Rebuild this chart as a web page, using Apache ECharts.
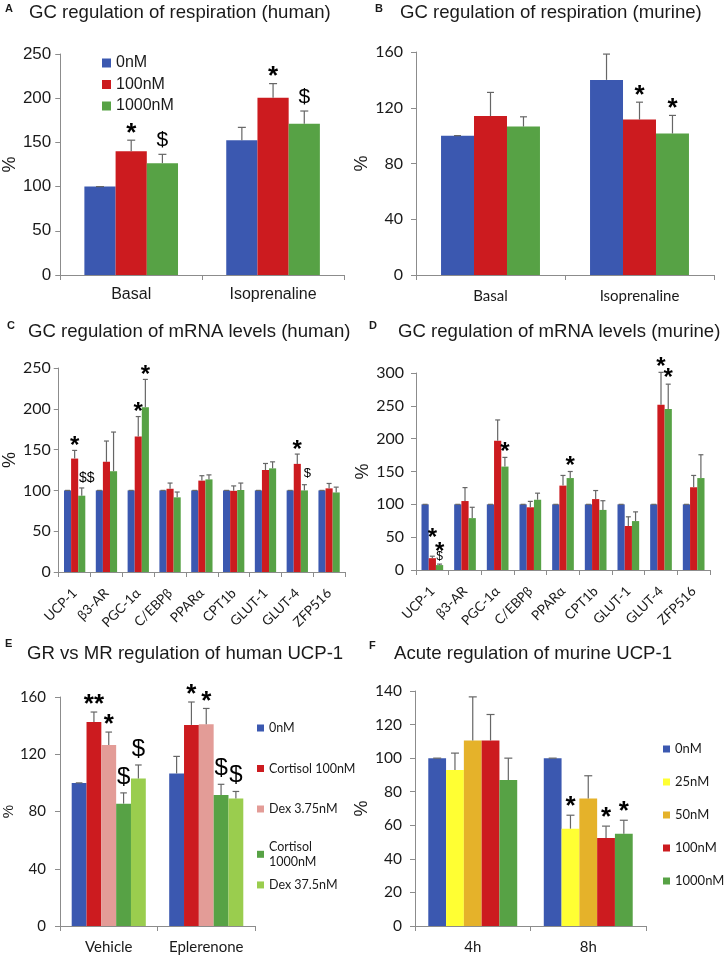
<!DOCTYPE html>
<html><head><meta charset="utf-8">
<script src="https://cdn.jsdelivr.net/npm/echarts@6/dist/echarts.min.js"></script>
<style>html,body{margin:0;padding:0;background:#fff}#c{width:725px;height:956px}</style>
</head><body><div id="c"></div>
<script>
// ---------------- DATA ----------------
// A: GC regulation of respiration (human)
const catsResp = ['Basal', 'Isoprenaline'];
const ticksA = [0, 50, 100, 150, 200, 250];
const respHuman0 = [100, 152.5];
const respHuman0Err = [0, 14.5];
const respHuman100 = [140, 200.5];
const respHuman100Err = [12.5, 16];
const respHuman1000 = [126.5, 171];
const respHuman1000Err = [10, 14.5];
const respHumanAnn100 = ['*', '*'];
const respHumanAnn1000 = ['$', '$'];

// B: GC regulation of respiration (murine)
const ticksB = [0, 40, 80, 120, 160];
const respMurine0 = [100, 140];
const respMurine0Err = [0, 18.5];
const respMurine100 = [114, 111.5];
const respMurine100Err = [17, 12.5];
const respMurine1000 = [106.5, 101.5];
const respMurine1000Err = [7, 13];
const respMurineAnn100 = ['', '*'];
const respMurineAnn1000 = ['', '*'];

// C / D: mRNA levels
const catsGenes = ['UCP-1', 'β3-AR', 'PGC-1α', 'C/EBPβ', 'PPARα', 'CPT1b', 'GLUT-1', 'GLUT-4', 'ZFP516'];
const ticksC = [0, 50, 100, 150, 200, 250];
const mrnaHuman0 = [100, 100, 100, 100, 100, 100, 100, 100, 100];
const mrnaHuman0Err = [0, 0, 0, 0, 0, 0, 0, 0, 0];
const mrnaHuman100 = [139, 135, 166, 102, 112, 99.5, 125, 132.5, 102.5];
const mrnaHuman100Err = [10, 25.5, 24.5, 7, 6, 6, 8, 12, 6];
const mrnaHuman1000 = [93.5, 123.5, 202, 91.5, 113.5, 100.5, 127, 100, 97.5];
const mrnaHuman1000Err = [9.5, 48, 34, 6.5, 5.5, 8.5, 8, 7, 6.5];
const mrnaHumanAnn100 = ['*', '', '*', '', '', '', '', '*', ''];
const mrnaHumanAnn1000 = ['$$', '', '*', '', '', '', '', '$', ''];

const ticksD = [0, 50, 100, 150, 200, 250, 300];
const mrnaMurine0 = [100, 100, 100, 100, 100, 100, 100, 100, 100];
const mrnaMurine0Err = [0, 0, 0, 0, 0, 0, 0, 0, 0];
const mrnaMurine100 = [18, 105, 197, 95.5, 128.5, 108, 67, 251.5, 126];
const mrnaMurine100Err = [3, 20.5, 31.5, 9, 15.5, 13, 14, 49.5, 18];
const mrnaMurine1000 = [7.5, 79, 157.5, 107, 140, 91.5, 74.5, 245, 140];
const mrnaMurine1000Err = [1.5, 16.5, 14, 10, 10, 14, 14, 38, 35.5];
const mrnaMurineAnn100 = ['*', '', '', '', '', '', '', '*', ''];
const mrnaMurineAnn1000 = ['$|*', '', '*', '', '*', '', '', '*', ''];

// E: GR vs MR regulation of human UCP-1
const catsE = ['Vehicle', 'Eplerenone'];
const ticksE = [0, 40, 80, 120, 160];
const grmr0 = [100, 106.5];
const grmr0Err = [0, 12];
const grmrCort100 = [142.5, 140.5];
const grmrCort100Err = [7, 16];
const grmrDex375 = [126.5, 141];
const grmrDex375Err = [9, 11];
const grmrCort1000 = [85.5, 91.5];
const grmrCort1000Err = [7.5, 7.5];
const grmrDex375b = [103, 89];
const grmrDex375bErr = [9.5, 5];
const grmrAnnCort100 = ['**', '*'];
const grmrAnnDex375 = ['*', '*'];
const grmrAnnCort1000 = ['$', '$'];
const grmrAnnDex375b = ['$', '$'];

// F: Acute regulation of murine UCP-1
const catsF = ['4h', '8h'];
const ticksF = [0, 20, 40, 60, 80, 100, 120, 140];
const acute0 = [100, 100];
const acute0Err = [0, 0];
const acute25 = [93, 58];
const acute25Err = [10, 8];
const acute50 = [110.5, 76];
const acute50Err = [26, 13.5];
const acute100 = [110.5, 52.5];
const acute100Err = [15.5, 7];
const acute1000 = [87, 55];
const acute1000Err = [13, 8];
const acuteAnn25 = ['', '*'];
const acuteAnn50 = ['', ''];
const acuteAnn100 = ['', '*'];
const acuteAnn1000 = ['', '*'];

// ---------------- STYLE ----------------
const BLUE = '#3B58B0', RED = '#CC1B1F', GREEN = '#57A245', PINK = '#E39C97',
      LGREEN = '#9ACD4E', YELLOW = '#FFFF33', ORANGE = '#E5B22A';
const AXIS = '#8c8c8c', ERR = '#666666', TXT = '#1a1a1a';
const FA = '"Liberation Sans", Arial, sans-serif';
const FC = 'Lato, "Open Sans", sans-serif';

const grids = [], xAxes = [], yAxes = [], series = [];

function errSeries(gi, si, n, gap, cap, vals, errs, anns, annStyle, overrides) {
  return {
    type: 'custom', xAxisIndex: gi, yAxisIndex: gi, z: 5, silent: true, animation: false,
    data: vals.map((v, i) => [i, v, errs[i]]),
    encode: { x: 0, y: 1 },
    renderItem(params, api) {
      const ci = params.dataIndex;
      const m = api.value(1), e = api.value(2);
      const base = api.coord([ci, m]);
      const top = api.coord([ci, m + e]);
      const band = api.size([1, 0])[0];
      const bw = band * (1 - gap) / n;
      const x = base[0] + (si - (n - 1) / 2) * bw;
      const ch = [];
      if (e > 0) ch.push({ type: 'line', shape: { x1: x, y1: base[1], x2: x, y2: top[1] }, style: { stroke: ERR, lineWidth: 1.2 } });
      ch.push({ type: 'line', shape: { x1: x - cap, y1: top[1], x2: x + cap, y2: top[1] }, style: { stroke: ERR, lineWidth: 1.2 } });
      const a = anns ? anns[ci] : '';
      if (a) {
        a.split('|').forEach((tok, k) => {
          const kind = tok[0] === '*' ? 'star' : 'dollar';
          let st = Object.assign({}, annStyle[kind]);
          const ov = overrides && overrides[si + '-' + ci + '-' + k];
          if (ov) Object.assign(st, ov);
          const glyphCenter = top[1] - st.dy;
          const y = kind === 'star' ? glyphCenter + 0.21 * st.size : glyphCenter;
          ch.push({
            type: 'text', z2: 10,
            style: {
              text: tok, x: x + (st.dx || 0), y: y, align: 'center', verticalAlign: 'middle',
              font: (kind === 'star' ? 'bold ' : '') + st.size + 'px ' + (st.font || FA), fill: '#000'
            }
          });
        });
      }
      return { type: 'group', children: ch };
    }
  };
}

function addPanel(cfg) {
  const gi = grids.length;
  grids.push(cfg.grid);
  xAxes.push({
    type: 'category', gridIndex: gi, data: cfg.cats,
    axisLine: { lineStyle: { color: AXIS, width: 1 } },
    axisTick: { show: true, length: 5, lineStyle: { color: AXIS } },
    axisLabel: { interval: 0, color: TXT, fontFamily: cfg.xFont[0], fontSize: cfg.xFont[1], margin: cfg.xMargin, rotate: cfg.xRotate || 0 }
  });
  const t = cfg.ticks;
  yAxes.push({
    type: 'value', gridIndex: gi, min: t[0], max: t[t.length - 1], interval: t[1] - t[0],
    axisLine: { show: true, lineStyle: { color: AXIS, width: 1 } },
    axisTick: { show: true, length: 5, lineStyle: { color: AXIS } },
    splitLine: { show: false },
    axisLabel: { color: TXT, fontFamily: cfg.yFont[0], fontSize: cfg.yFont[1], margin: cfg.yMargin },
    name: '%', nameLocation: 'middle', nameRotate: 90, nameGap: cfg.yName.gap,
    nameTextStyle: { color: TXT, fontFamily: FA, fontSize: cfg.yName.size, padding: cfg.yName.padding || 0 }
  });
  const n = cfg.series.length;
  cfg.series.forEach((s, si) => {
    series.push({
      type: 'bar', name: s.name, xAxisIndex: gi, yAxisIndex: gi, data: s.vals,
      barGap: '0%', barCategoryGap: (cfg.gap * 100) + '%',
      itemStyle: { color: s.color }, emphasis: { disabled: true }, animation: false
    });
    series.push(errSeries(gi, si, n, cfg.gap, cfg.cap, s.vals, s.errs, s.anns, cfg.annStyle, cfg.overrides));
  });
}

// A
addPanel({
  grid: { left: 54, top: 54, width: 290, height: 221 }, cats: catsResp, ticks: ticksA, gap: 0.34, cap: 4,
  xFont: [FA, 16], xMargin: 12, yFont: [FA, 17], yMargin: 9, yName: { gap: 34, size: 18 },
  annStyle: { star: { size: 26, dy: 12 }, dollar: { size: 21, dy: 14 } },
  series: [
    { name: '0nM', color: BLUE, vals: respHuman0, errs: respHuman0Err },
    { name: '100nM', color: RED, vals: respHuman100, errs: respHuman100Err, anns: respHumanAnn100 },
    { name: '1000nM', color: GREEN, vals: respHuman1000, errs: respHuman1000Err, anns: respHumanAnn1000 }
  ]
});
// B
addPanel({
  grid: { left: 416, top: 52, width: 298, height: 223 }, cats: catsResp, ticks: ticksB, gap: 0.336, cap: 3.5,
  xFont: [FC, 15], xMargin: 14, yFont: [FC, 16], yMargin: 13, yName: { gap: 30, size: 18 },
  annStyle: { star: { size: 26, dy: 12 }, dollar: { size: 21, dy: 14 } },
  series: [
    { name: '0nM', color: BLUE, vals: respMurine0, errs: respMurine0Err },
    { name: '100nM', color: RED, vals: respMurine100, errs: respMurine100Err, anns: respMurineAnn100 },
    { name: '1000nM', color: GREEN, vals: respMurine1000, errs: respMurine1000Err, anns: respMurineAnn1000 }
  ]
});
// C
addPanel({
  grid: { left: 53, top: 368, width: 292, height: 204 }, cats: catsGenes, ticks: ticksC, gap: 0.33, cap: 2.5,
  xFont: [FC, 13.5], xMargin: 19, xRotate: 45, yFont: [FC, 16], yMargin: 8, yName: { gap: 34, size: 18, padding: [0, 0, 0, 20] },
  annStyle: { star: { size: 24, dy: 9 }, dollar: { size: 14, dy: 10 } },
  overrides: { '2-0-0': { dx: 5, dy: 10 }, '2-7-0': { dx: 3, dy: 11, size: 13 } },
  series: [
    { name: '0nM', color: BLUE, vals: mrnaHuman0, errs: mrnaHuman0Err },
    { name: '100nM', color: RED, vals: mrnaHuman100, errs: mrnaHuman100Err, anns: mrnaHumanAnn100 },
    { name: '1000nM', color: GREEN, vals: mrnaHuman1000, errs: mrnaHuman1000Err, anns: mrnaHumanAnn1000 }
  ]
});
// D
addPanel({
  grid: { left: 416, top: 373, width: 294, height: 197 }, cats: catsGenes, ticks: ticksD, gap: 0.336, cap: 2.5,
  xFont: [FC, 13.5], xMargin: 19, xRotate: 45, yFont: [FC, 16], yMargin: 12, yName: { gap: 40, size: 18 },
  annStyle: { star: { size: 24, dy: 10.5 }, dollar: { size: 12, dy: 7 } },
  overrides: { '1-0-0': { dy: 23 }, '2-0-1': { dy: 17 } },
  series: [
    { name: '0nM', color: BLUE, vals: mrnaMurine0, errs: mrnaMurine0Err },
    { name: '100nM', color: RED, vals: mrnaMurine100, errs: mrnaMurine100Err, anns: mrnaMurineAnn100 },
    { name: '1000nM', color: GREEN, vals: mrnaMurine1000, errs: mrnaMurine1000Err, anns: mrnaMurineAnn1000 }
  ]
});
// E
addPanel({
  grid: { left: 54, top: 697, width: 201, height: 229 }, cats: catsE, ticks: ticksE, gap: 0.24, cap: 3.3,
  xFont: [FC, 15], xMargin: 14, yFont: [FC, 15], yMargin: 14, yName: { gap: 26, size: 15 },
  annStyle: { star: { size: 26, dy: 12.5 }, dollar: { size: 24, dy: 16 } },
  series: [
    { name: '0nM', color: BLUE, vals: grmr0, errs: grmr0Err },
    { name: 'Cortisol 100nM', color: RED, vals: grmrCort100, errs: grmrCort100Err, anns: grmrAnnCort100 },
    { name: 'Dex 3.75nM', color: PINK, vals: grmrDex375, errs: grmrDex375Err, anns: grmrAnnDex375 },
    { name: 'Cortisol 1000nM', color: GREEN, vals: grmrCort1000, errs: grmrCort1000Err, anns: grmrAnnCort1000 },
    { name: 'Dex 37.5nM', color: LGREEN, vals: grmrDex375b, errs: grmrDex375bErr, anns: grmrAnnDex375b }
  ]
});
// F
addPanel({
  grid: { left: 415, top: 691, width: 231, height: 235 }, cats: catsF, ticks: ticksF, gap: 0.23, cap: 4,
  xFont: [FC, 15], xMargin: 14, yFont: [FC, 15.5], yMargin: 13, yName: { gap: 38, size: 18 },
  annStyle: { star: { size: 26, dy: 14 }, dollar: { size: 20, dy: 14 } },
  series: [
    { name: '0nM', color: BLUE, vals: acute0, errs: acute0Err },
    { name: '25nM', color: YELLOW, vals: acute25, errs: acute25Err, anns: acuteAnn25 },
    { name: '50nM', color: ORANGE, vals: acute50, errs: acute50Err, anns: acuteAnn50 },
    { name: '100nM', color: RED, vals: acute100, errs: acute100Err, anns: acuteAnn100 },
    { name: '1000nM', color: GREEN, vals: acute1000, errs: acute1000Err, anns: acuteAnn1000 }
  ]
});

function ttl(text, left, top, size, bold) {
  return { text, left, top, padding: 0, textStyle: { fontFamily: FA, fontSize: size, fontWeight: bold ? 'bold' : 'normal', color: TXT } };
}
const TS = 18.6;
const titles = [
  ttl('A', 5, 3, 11, true), ttl('GC regulation of respiration (human)', 29, 3, TS),
  ttl('B', 375, 3, 11, true), ttl('GC regulation of respiration (murine)', 400, 3, TS),
  ttl('C', 7, 320, 11, true), ttl('GC regulation of mRNA levels (human)', 28, 322, TS),
  ttl('D', 369, 320, 11, true), ttl('GC regulation of mRNA levels (murine)', 398, 322, TS),
  ttl('E', 5, 638, 11, true), ttl('GR vs MR regulation of human UCP-1', 27, 644, TS),
  ttl('F', 369, 640, 11, true), ttl('Acute regulation of murine UCP-1', 394, 644, TS)
];

const legends = [
  { orient: 'vertical', left: 97, top: 50, itemWidth: 9, itemHeight: 9, itemGap: 5.5, icon: 'rect', selectedMode: false,
    textStyle: { fontFamily: FA, fontSize: 16, color: TXT }, data: ['0nM', '100nM', '1000nM'] },
  { orient: 'vertical', left: 252, top: 716.5, itemWidth: 7, itemHeight: 7, itemGap: 27.5, icon: 'rect', selectedMode: false,
    textStyle: { fontFamily: FC, fontSize: 12.5, color: TXT }, data: ['0nM', 'Cortisol 100nM', 'Dex 3.75nM'] },
  { orient: 'vertical', left: 252, top: 834, itemWidth: 7, itemHeight: 7, itemGap: 7.7, icon: 'rect', selectedMode: false,
    textStyle: { fontFamily: FC, fontSize: 12.5, lineHeight: 15.3, color: TXT }, data: ['Cortisol 1000nM', 'Dex 37.5nM'],
    formatter: name => name.replace('Cortisol ', 'Cortisol\n') },
  { orient: 'vertical', left: 658, top: 737.5, itemWidth: 7, itemHeight: 7, itemGap: 20, icon: 'rect', selectedMode: false,
    textStyle: { fontFamily: FC, fontSize: 13, color: TXT }, data: ['0nM', '25nM', '50nM', '100nM', '1000nM'] }
];

const chart = echarts.init(document.getElementById('c'), null, { renderer: 'canvas' });
chart.setOption({
  backgroundColor: '#fff', animation: false,
  title: titles, legend: legends,
  grid: grids, xAxis: xAxes, yAxis: yAxes, series: series
});
</script></body></html>
